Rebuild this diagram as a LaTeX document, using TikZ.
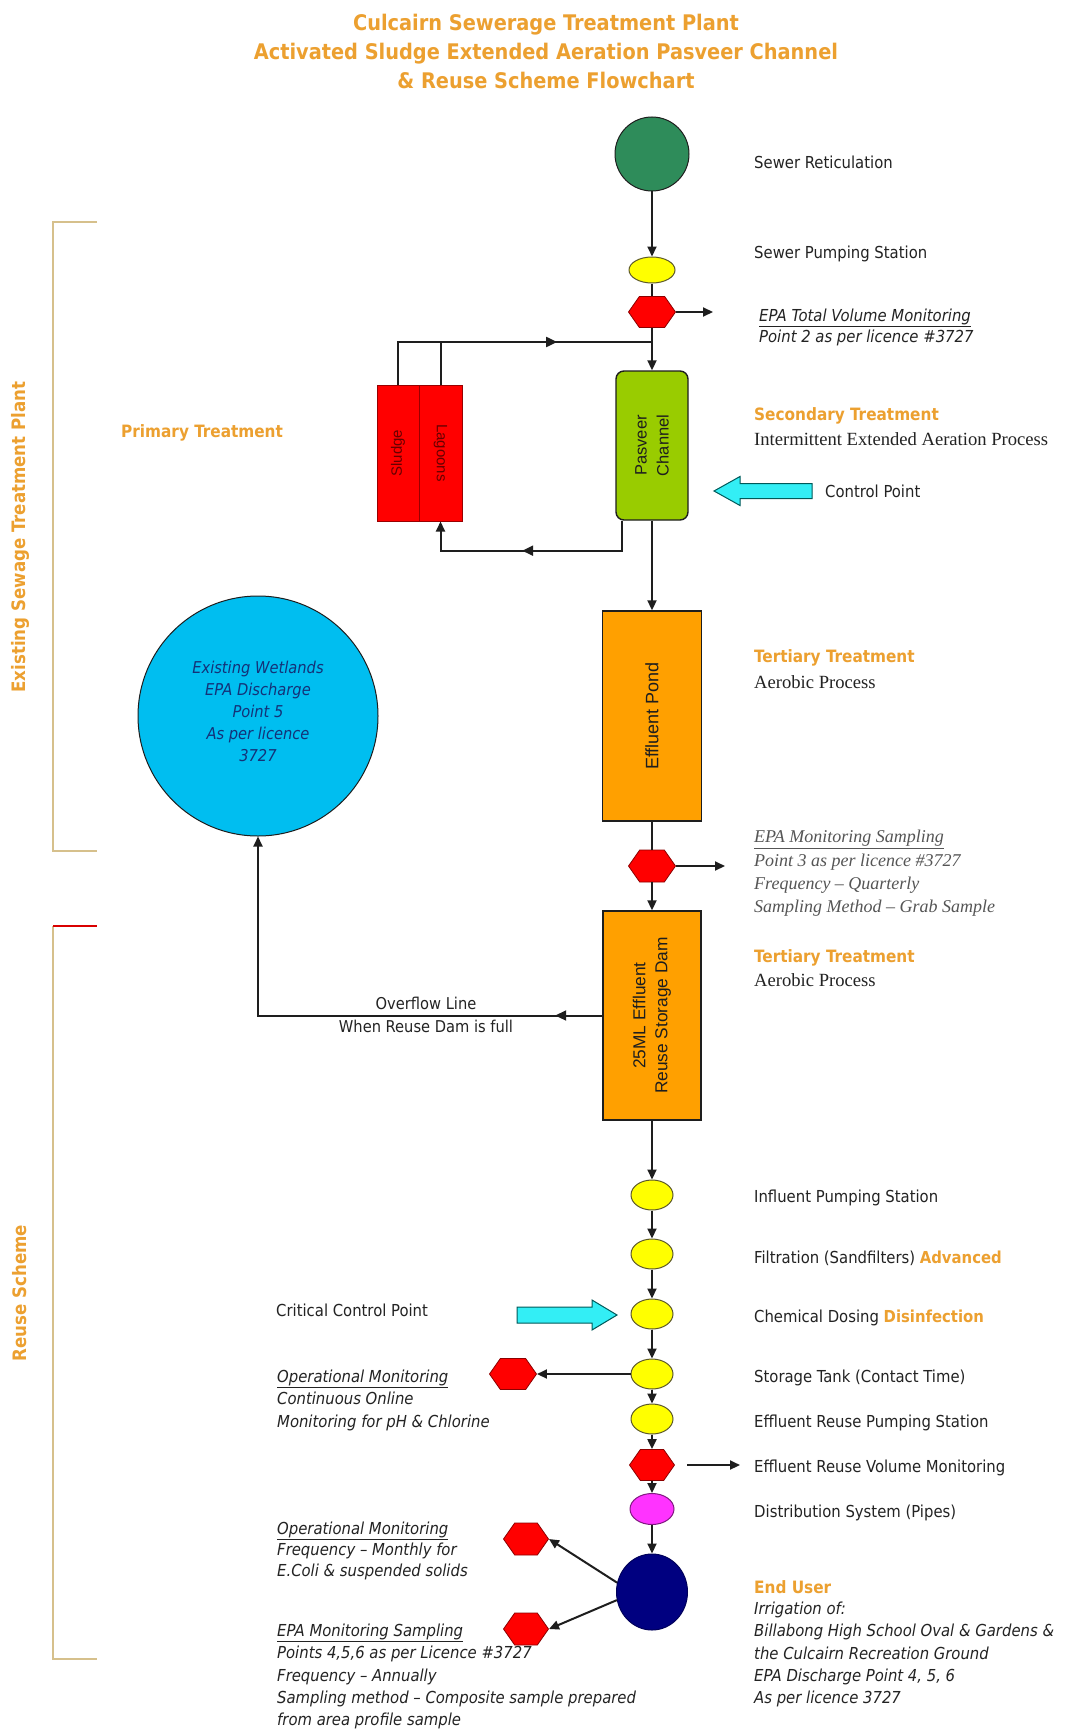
\documentclass[tikz,border=0pt]{standalone}
\usepackage{fontspec}
\setmainfont{DejaVu Sans Condensed}
\newfontfamily\serifrm[Ligatures=TeX]{Liberation Serif}
\newfontfamily\arialf[Ligatures=TeX]{Liberation Sans}
\usetikzlibrary{arrows.meta,shapes.geometric,shapes.symbols,decorations.markings}
\definecolor{ttl}{RGB}{236,160,48}
\definecolor{srgreen}{RGB}{46,140,90}
\definecolor{ylw}{RGB}{255,255,0}
\definecolor{hexred}{RGB}{255,0,0}
\definecolor{pasgreen}{RGB}{153,204,0}
\definecolor{orng}{RGB}{255,160,0}
\definecolor{wetblue}{RGB}{0,190,240}
\definecolor{magc}{RGB}{255,51,255}
\definecolor{navyc}{RGB}{0,0,128}
\definecolor{cyanarr}{RGB}{51,238,245}
\definecolor{brk}{RGB}{214,192,140}
\definecolor{txt}{RGB}{35,35,35}
\definecolor{gry}{RGB}{85,85,85}
\definecolor{wettxt}{RGB}{20,50,120}
\definecolor{linec}{RGB}{30,30,30}
\tikzset{
 flow/.style={draw=linec, line width=2pt},
 arr/.style={flow, -{Triangle[length=10pt,width=9pt]}},
 midarr/.style={postaction={decorate}, decoration={markings, mark=at position #1 with {\arrow{Triangle[length=11pt,width=10pt]}}}},
 lbl/.style={anchor=west, inner sep=0pt, text=txt, align=left, font=\fontsize{16.5}{22}\selectfont},
 head/.style={lbl, text=ttl, font=\bfseries\fontsize{17}{22}\selectfont},
 srf/.style={lbl, font=\serifrm\fontsize{18.6}{23}\selectfont},
 epa/.style={lbl, text=gry, font=\serifrm\itshape\fontsize{18}{23.3}\selectfont},
 itl/.style={lbl, font=\itshape\fontsize{16.5}{22.3}\selectfont},
 hexa/.style={signal, signal to=east and west, signal pointer angle=110, draw=red!55!black, line width=0.8pt, fill=hexred, minimum width=47pt, minimum height=31pt, inner sep=0pt},
 yel/.style={ellipse, draw=olive!55!black, line width=1pt, fill=ylw, minimum width=42pt, minimum height=30pt, inner sep=0pt},
 boxo/.style={rectangle, draw=linec, line width=1.4pt, fill=orng, inner sep=0pt},
 boxtxt/.style={rotate=90, align=center, inner sep=0pt, text=linec, font=\arialf\fontsize{17.3}{22}\selectfont},
 bracket/.style={draw=brk, line width=1.6pt},
 brtxt/.style={rotate=90, inner sep=0pt, text=ttl},
 cyarr/.style={draw=teal!70!black, line width=1pt, fill=cyanarr}
}
\begin{document}
\begin{tikzpicture}[x=1pt,y=-1pt]
\fill[white] (0,0) rectangle (1068,1731);
\useasboundingbox (0,0) rectangle (1068,1731);

% title
\node[align=center, text=ttl, inner sep=0pt, font=\bfseries\fontsize{21.5}{29}\selectfont] (title) at (546,51)
 {Culcairn Sewerage Treatment Plant\\Activated Sludge Extended Aeration Pasveer Channel\\\& Reuse Scheme Flowchart};

% brackets
\draw[bracket] (97,222) -- (53,222) -- (53,851) -- (97,851);
\node[brtxt, font=\bfseries\fontsize{18.5}{20}\selectfont] (brk1) at (20,537) {Existing Sewage Treatment Plant};
\draw[bracket] (53,926) -- (53,1659) -- (97,1659);
\draw[draw=red!85!black, line width=1.4pt] (53,926) -- (97,926);
\node[brtxt, font=\bfseries\fontsize{18.5}{20}\selectfont] (brk2) at (20,1293) {Reuse Scheme};

% main chain nodes
\node[circle, draw=linec, line width=1pt, fill=srgreen, minimum size=74pt, inner sep=0pt] (sr) at (652,154) {};
\node[yel, minimum width=46pt, minimum height=26pt] (sps) at (652,270) {};
\node[hexa] (h1) at (652,312) {};
\coordinate (h1out) at (713,312);
\coordinate (j1) at (652,342);
\node[rectangle, rounded corners=8pt, draw=linec, line width=1.4pt, fill=pasgreen, minimum width=72pt, minimum height=149pt, inner sep=0pt] (pas) at (652,445.5) {};
\node[boxtxt, font=\arialf\fontsize{16.5}{22}\selectfont] (past) at (pas) {Pasveer\\Channel};
\node[rectangle, draw=red!60!black, line width=1pt, fill=hexred, minimum width=42pt, minimum height=136pt, inner sep=0pt] (sludge) at (398,453) {};
\node[rectangle, draw=red!60!black, line width=1pt, fill=hexred, minimum width=43pt, minimum height=136pt, inner sep=0pt] (lagoons) at (440.5,453) {};
\node[rotate=90, inner sep=0pt, text=red!40!black, font=\arialf\fontsize{15}{16}\selectfont] (sludget) at (sludge) {Sludge};
\node[rotate=-90, inner sep=0pt, text=red!40!black, font=\arialf\fontsize{15}{16}\selectfont] (lagoonst) at (lagoons) {Lagoons};
\node[boxo, minimum width=99pt, minimum height=210pt] (ep) at (652,716) {};
\node[boxtxt, font=\arialf\fontsize{18}{22}\selectfont] (ept) at (ep) {Effluent Pond};
\node[hexa, minimum height=32pt] (h2) at (652,866) {};
\coordinate (h2out) at (725,866);
\node[boxo, minimum width=98pt, minimum height=209pt] (dam) at (652,1015.5) {};
\node[boxtxt] (damt) at (dam) {25ML Effluent\\Reuse Storage Dam};
\node[circle, draw=linec, line width=1pt, fill=wetblue, minimum size=240pt, inner sep=0pt] (wet) at (258,716) {};
\node[align=center, inner sep=0pt, text=wettxt, font=\itshape\fontsize{16.3}{22}\selectfont] (wett) at (258,711)
 {Existing Wetlands\\EPA Discharge\\Point 5\\As per licence\\3727};

\node[yel] (c1) at (652,1195) {};
\node[yel] (c2) at (652,1254) {};
\node[yel] (c3) at (652,1314) {};
\node[yel] (c4) at (652,1374) {};
\node[yel] (c5) at (652,1419) {};
\node[hexa, minimum width=45pt] (h3) at (652,1465) {};
\coordinate (h3a) at (687,1465);
\coordinate (h3b) at (740,1465);
\node[ellipse, draw=magc!50!black, line width=1pt, fill=magc, minimum width=44pt, minimum height=31pt, inner sep=0pt] (mag) at (652,1509) {};
\node[ellipse, draw=navyc!70!black, line width=1pt, fill=navyc, minimum width=71pt, minimum height=76pt, inner sep=0pt] (navy) at (652,1592) {};
\node[hexa] (h6) at (513,1374) {};
\node[hexa, minimum width=45pt, minimum height=32pt] (h4) at (526,1539) {};
\node[hexa, minimum width=45pt, minimum height=32pt] (h5) at (526,1629) {};

% connectors
\draw[arr] (sr) -- (sps);
\draw[flow] (sps) -- (h1);
\draw[arr] (h1.east) -- (h1out);
\draw[flow] (h1) -- (j1);
\draw[arr] (j1) -- (pas);
\draw[flow, midarr=0.68] (sludge.north) |- (j1);
\draw[flow] (lagoons.north) -- (lagoons.north |- j1);
\draw[arr, midarr=0.54] ([xshift=7pt]pas.south west) -- ++(0,30) -| (lagoons.south);
\draw[arr] (pas) -- (ep);
\draw[flow] (ep) -- (h2);
\draw[arr] (h2.east) -- (h2out);
\draw[arr] (h2) -- (dam);
\draw[arr, midarr=0.09] (dam.west) -| (wet.south);
\draw[arr] (dam) -- (c1);
\draw[arr] (c1) -- (c2);
\draw[arr] (c2) -- (c3);
\draw[arr] (c3) -- (c4);
\draw[arr] (c4) -- (c5);
\draw[arr] (c5) -- (h3);
\draw[arr] (h3a) -- (h3b);
\draw[arr] (h3) -- (mag);
\draw[arr] (mag) -- (navy);
\draw[arr] (c4.west) -- (h6.east);
\draw[arr] (navy.165) -- (h4.east);
\draw[arr] (navy.193) -- (h5.east);

% overflow label
\node[align=center, inner sep=0pt, text=txt, font=\fontsize{16.3}{23}\selectfont] (ovt) at (426,1014.5) {Overflow Line\\When Reuse Dam is full};

% block arrows
\coordinate (cpA) at (714,491);
\draw[cyarr] (cpA) -- ++(26,-14.5) -- ++(0,7) -- ++(72,0) -- ++(0,15) -- ++(-72,0) -- ++(0,7) -- cycle;
\coordinate (ccA) at (617,1315);
\draw[cyarr] (ccA) -- ++(-25,-15) -- ++(0,7) -- ++(-75,0) -- ++(0,16) -- ++(75,0) -- ++(0,7) -- cycle;

% right labels
\node[lbl] (l1) at (754,162) {Sewer Reticulation};
\node[lbl] (l2) at (754,254) {Sewer Pumping Station};
\node[lbl, font=\itshape\fontsize{16.5}{21}\selectfont] (l3) at (759,327) {\underline{EPA Total Volume Monitoring}\\Point 2 as per licence \#3727};
\node[head] (l4) at (754,416) {Secondary Treatment};
\node[srf] (l5) at (754,439) {Intermittent Extended Aeration Process};
\node[lbl] (l6) at (825,491) {Control Point};
\node[head] (l7) at (754,658) {Tertiary Treatment};
\node[srf] (l8) at (754,682) {Aerobic Process};
\node[epa] (l9) at (754,873.5) {\underline{EPA Monitoring Sampling}\\Point 3 as per licence \#3727\\Frequency – Quarterly\\Sampling Method – Grab Sample};
\node[head] (l10) at (754,958) {Tertiary Treatment};
\node[srf] (l11) at (754,980) {Aerobic Process};
\node[lbl] (l12) at (754,1198) {Influent Pumping Station};
\node[lbl] (l13) at (754,1258) {Filtration (Sandfilters) \textcolor{ttl}{\bfseries Advanced}};
\node[lbl] (l14) at (754,1318) {Chemical Dosing \textcolor{ttl}{\bfseries Disinfection}};
\node[lbl] (l15) at (754,1378) {Storage Tank (Contact Time)};
\node[lbl] (l16) at (754,1423) {Effluent Reuse Pumping Station};
\node[lbl] (l17) at (754,1468) {Effluent Reuse Volume Monitoring};
\node[lbl] (l18) at (754,1513) {Distribution System (Pipes)};
\node[head] (l19) at (754,1587) {End User};
\node[itl] (l20) at (754,1654.6) {Irrigation of:\\Billabong High School Oval \& Gardens \&\\the Culcairn Recreation Ground\\EPA Discharge Point 4, 5, 6\\As per licence 3727};

% left labels
\node[head] (p1) at (121,433) {Primary Treatment};
\node[lbl] (p2) at (276,1310) {Critical Control Point};
\node[itl, font=\itshape\fontsize{16.5}{22.5}\selectfont] (p3) at (277,1400) {\underline{Operational Monitoring}\\Continuous Online\\Monitoring for pH \& Chlorine};
\node[itl, font=\itshape\fontsize{16.5}{21}\selectfont] (p4) at (277,1551) {\underline{Operational Monitoring}\\Frequency – Monthly for\\E.Coli \& suspended solids};
\node[itl] (p5) at (277,1676.6) {\underline{EPA Monitoring Sampling}\\Points 4,5,6 as per Licence \#3727\\Frequency – Annually\\Sampling method – Composite sample prepared\\from area profile sample};
\end{tikzpicture}
\end{document}
